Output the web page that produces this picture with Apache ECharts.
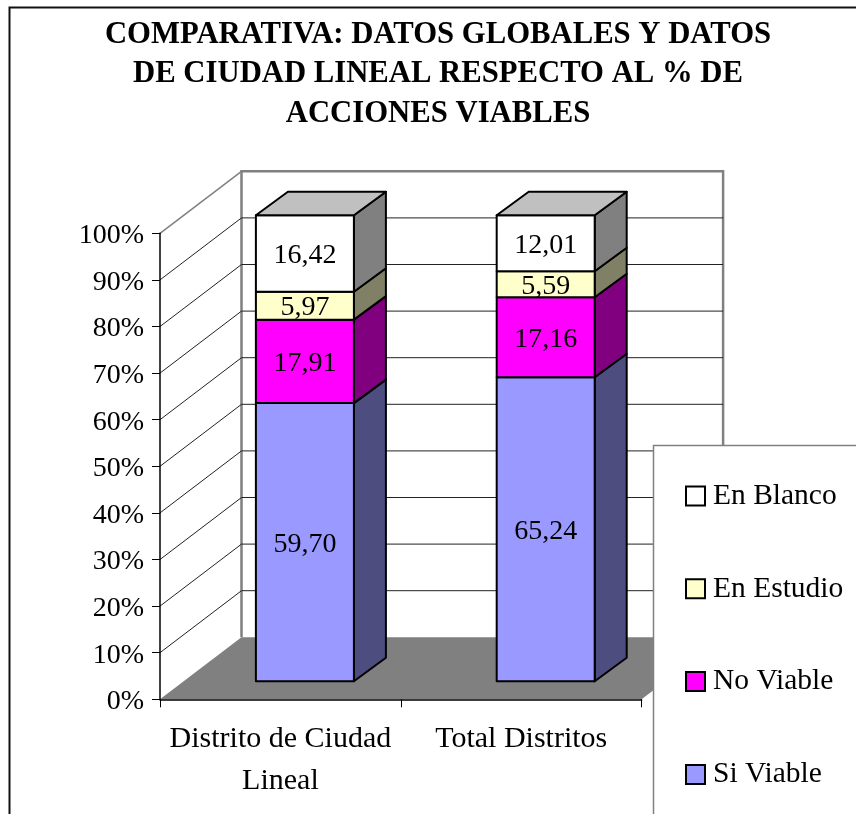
<!DOCTYPE html>
<html>
<head>
<meta charset="utf-8">
<style>
  html, body { margin: 0; padding: 0; background: #fff; }
  #chart { width: 856px; height: 814px; }
</style>
<script src="https://cdn.jsdelivr.net/npm/echarts@6/dist/echarts.min.js"></script>
</head>
<body>
<div id="chart"></div>
<script>
var categories = ['Distrito de Ciudad\nLineal', 'Total Distritos'];
var siViable = [59.70, 65.24];
var noViable = [17.91, 17.16];
var enEstudio = [5.97, 5.59];
var enBlanco = [16.42, 12.01];
var gridTicks = [10, 20, 30, 40, 50, 60, 70, 80, 90];

var FONT = '"Liberation Serif", "Times New Roman", serif';
// fake 3d: how far the back wall and the bar depth are shifted, in px
var WALL_DX = 81.5, WALL_DY = -62;
var BAR_DX = 24.5, BAR_DY = -18;
var DEPTH_DX = 32, DEPTH_DY = -23.5;

var myChart = echarts.init(document.getElementById('chart'));

// left and right end of the category axis (api.coord snaps to category centres)
function axisEnds(api, value) {
    var half = api.size([1, 0])[0] / 2;
    return [api.coord([0, value])[0] - half, api.coord([1, value])[0] + half, api.coord([0, value])[1]];
}

function wallItem(params, api) {
    var bottom = axisEnds(api, 0);
    var top = axisEnds(api, 100);
    var xl = bottom[0], xr = bottom[1], y0 = bottom[2], y1 = top[2];
    return {
        type: 'group',
        children: [
            { type: 'polygon', shape: { points: [
                [xl, y0], [xr, y0], [xr + WALL_DX, y0 + WALL_DY], [xl + WALL_DX, y0 + WALL_DY]
            ] }, style: { fill: '#808080' } },
            { type: 'polyline', shape: { points: [
                [xl + WALL_DX, y0 + WALL_DY], [xl + WALL_DX, y1 + WALL_DY],
                [xr + WALL_DX, y1 + WALL_DY], [xr + WALL_DX, y0 + WALL_DY]
            ] }, style: { stroke: '#808080', lineWidth: 2.5, fill: 'none' } },
            { type: 'line', shape: { x1: xl, y1: y1, x2: xl + WALL_DX, y2: y1 + WALL_DY },
              style: { stroke: '#808080', lineWidth: 1.5 } }
        ]
    };
}

function gridItem(params, api) {
    var e = axisEnds(api, api.value(0));
    return {
        type: 'polyline',
        shape: { points: [[e[0], e[2]], [e[0] + WALL_DX, e[2] + WALL_DY], [e[1] + WALL_DX, e[2] + WALL_DY]] },
        style: { stroke: '#222', lineWidth: 1, fill: 'none' }
    };
}

function makeBar(front, side, showTop) {
    return function (params, api) {
        var cat = api.value(0);
        var p0 = api.coord([cat, api.value(1)]);
        var p1 = api.coord([cat, api.value(2)]);
        var w = api.size([1, 0])[0] * 0.407;
        var x0 = p0[0] + BAR_DX - w / 2, x1 = x0 + w;
        var yb = p0[1] + BAR_DY, yt = p1[1] + BAR_DY;
        var edge = { stroke: '#000', lineWidth: 2, lineJoin: 'round' };
        var kids = [
            { type: 'polygon', shape: { points: [[x1, yb], [x1 + DEPTH_DX, yb + DEPTH_DY], [x1 + DEPTH_DX, yt + DEPTH_DY], [x1, yt]] },
              style: Object.assign({ fill: side }, edge) },
            { type: 'polygon', shape: { points: [[x0, yb], [x1, yb], [x1, yt], [x0, yt]] },
              style: Object.assign({ fill: front }, edge) }
        ];
        if (showTop) {
            kids.push({ type: 'polygon', shape: { points: [[x0, yt], [x1, yt], [x1 + DEPTH_DX, yt + DEPTH_DY], [x0 + DEPTH_DX, yt + DEPTH_DY]] },
              style: Object.assign({ fill: '#c0c0c0' }, edge) });
        }
        kids.push({ type: 'text', style: {
            x: (x0 + x1) / 2, y: (yb + yt) / 2 + 2,
            text: api.value(3).toFixed(2).replace('.', ','),
            align: 'center', verticalAlign: 'middle',
            font: '28px ' + FONT, fill: '#000'
        } });
        return { type: 'group', children: kids };
    };
}

// [category index, stack start, stack end, value]
function stackRows(values, below) {
    return values.map(function (v, i) {
        var start = 0;
        below.forEach(function (b) { start += b[i]; });
        return [i, start, start + v, v];
    });
}

function barSeries(name, values, below, front, side, showTop) {
    return {
        name: name,
        type: 'custom',
        clip: false,
        itemStyle: { color: front },
        renderItem: makeBar(front, side, showTop),
        encode: { x: 0, y: [1, 2] },
        data: stackRows(values, below)
    };
}

myChart.setOption({
    animation: false,
    backgroundColor: '#fff',
    title: {
        text: 'COMPARATIVA: DATOS GLOBALES Y DATOS\nDE CIUDAD LINEAL RESPECTO AL % DE\nACCIONES VIABLES',
        left: 433,
        top: 10,
        textAlign: 'center',
        textStyle: { fontFamily: FONT, fontSize: 30.7, fontWeight: 'bold', color: '#000', lineHeight: 39.5 }
    },
    grid: { left: 160, top: 233.3, width: 481.6, height: 466 },
    xAxis: {
        type: 'category',
        data: categories,
        z: 5,
        axisLine: { lineStyle: { color: '#000', width: 1.5 } },
        axisTick: { show: true, alignWithLabel: false, length: 8, lineStyle: { color: '#000' } },
        axisLabel: { interval: 0, margin: 19, color: '#000', fontFamily: FONT, fontSize: 30, lineHeight: 42 },
        splitLine: { show: false }
    },
    yAxis: {
        type: 'value',
        min: 0,
        max: 100,
        interval: 10,
        z: 5,
        axisLine: { show: true, lineStyle: { color: '#000', width: 1.5 } },
        axisTick: { show: true, length: 8, lineStyle: { color: '#000' } },
        // short line box so the glyphs sit a little under the tick, as in the original
        axisLabel: { formatter: '{value}%', margin: 16, verticalAlign: 'top', lineHeight: 5, color: '#000', fontFamily: FONT, fontSize: 28 },
        splitLine: { show: false }
    },
    legend: {
        orient: 'vertical',
        left: 680,
        top: 476,
        z: 30,
        icon: 'rect',
        itemWidth: 19,
        itemHeight: 19,
        itemGap: 62.8,
        selectedMode: false,
        data: ['En Blanco', 'En Estudio', 'No Viable', 'Si Viable'],
        itemStyle: { borderColor: '#000', borderWidth: 2 },
        textStyle: { fontFamily: FONT, fontSize: 29.5, color: '#000', padding: [0, 0, 0, 3] }
    },
    graphic: [
        // chart frame, runs off the page on the right and bottom
        { type: 'rect', z: 20, shape: { x: 9.5, y: 7.5, width: 900, height: 900 },
          style: { fill: 'none', stroke: '#111', lineWidth: 2 } },
        // legend box, same
        { type: 'rect', z: 21, shape: { x: 653.5, y: 445.5, width: 300, height: 500 },
          style: { fill: '#fff', stroke: '#808080', lineWidth: 1.5 } }
    ],
    series: [
        { type: 'custom', clip: false, silent: true, renderItem: wallItem, encode: { y: 1 }, data: [[0, 0]] },
        { type: 'custom', clip: false, silent: true, renderItem: gridItem, encode: { y: 0 }, data: gridTicks.map(function (t) { return [t]; }) },
        barSeries('Si Viable', siViable, [], '#9999ff', '#4d4d80', false),
        barSeries('No Viable', noViable, [siViable], '#ff00ff', '#800080', false),
        barSeries('En Estudio', enEstudio, [siViable, noViable], '#ffffcc', '#808066', false),
        barSeries('En Blanco', enBlanco, [siViable, noViable, enEstudio], '#ffffff', '#808080', true)
    ]
});
</script>
</body>
</html>
